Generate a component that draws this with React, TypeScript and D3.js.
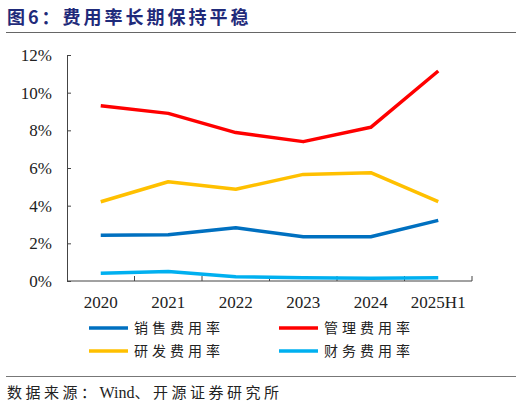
import * as d3 from "d3";
import { useEffect, useRef } from "react";

const categories = ["2020", "2021", "2022", "2023", "2024", "2025H1"];
const salesRate = [2.43, 2.46, 2.83, 2.35, 2.35, 3.22];
const adminRate = [9.31, 8.9, 7.88, 7.4, 8.16, 11.15];
const rdRate = [4.21, 5.27, 4.87, 5.66, 5.75, 4.21];
const financeRate = [0.41, 0.5, 0.23, 0.17, 0.15, 0.17];
const yTicks = [0, 2, 4, 6, 8, 10, 12];

const seriesNames = ["销售费用率", "管理费用率", "研发费用率", "财务费用率"];
const seriesColors = ["#0070C0", "#FF0000", "#FFC000", "#00B0F0"];

const serif = "'Liberation Serif', 'Times New Roman', serif";
const cjk = "'Noto Sans CJK SC', sans-serif";

export default function App() {
  const ref = useRef<SVGSVGElement | null>(null);

  useEffect(() => {
    if (!ref.current) return;
    const svg = d3.select(ref.current);
    svg.selectAll("*").remove();

    const W = 522;
    const H = 405;
    svg.attr("width", W).attr("height", H);

    const x = d3.scaleBand().domain(categories).range([67, 472]).padding(0);
    const y = d3.scaleLinear().domain([0, 12]).range([281, 55]);

    // title
    svg
      .append("text")
      .attr("x", 7)
      .attr("y", 24)
      .attr("fill", "#1F2A7A")
      .style("font-family", cjk)
      .style("font-weight", "bold")
      .style("font-size", "18px")
      .style("letter-spacing", "3px")
      .text("图6：费用率长期保持平稳");

    svg
      .append("line")
      .attr("x1", 6)
      .attr("x2", 516)
      .attr("y1", 32.5)
      .attr("y2", 32.5)
      .attr("stroke", "#666")
      .attr("stroke-width", 1.2);

    // y axis
    const yAxis = svg
      .append("g")
      .attr("transform", "translate(67,0)")
      .call(
        d3
          .axisLeft(y)
          .tickValues(yTicks)
          .tickSizeInner(-4)
          .tickSizeOuter(0)
          .tickPadding(15)
          .tickFormat((d) => `${d}%`)
      );
    yAxis.select(".domain").attr("stroke", "#444");
    yAxis.selectAll("line").attr("stroke", "#444");
    yAxis
      .selectAll("text")
      .attr("fill", "#222")
      .style("font-family", serif)
      .style("font-size", "17px");

    // x axis, ticks sit on the category boundaries
    const xAxis = svg.append("g");
    xAxis
      .append("line")
      .attr("x1", 67)
      .attr("x2", 472)
      .attr("y1", y(0))
      .attr("y2", y(0))
      .attr("stroke", "#444");
    xAxis
      .selectAll("line.tick")
      .data(categories)
      .enter()
      .append("line")
      .attr("class", "tick")
      .attr("x1", (d) => x(d)! + x.bandwidth())
      .attr("x2", (d) => x(d)! + x.bandwidth())
      .attr("y1", y(0))
      .attr("y2", y(0) - 5)
      .attr("stroke", "#444");
    xAxis
      .selectAll("text")
      .data(categories)
      .enter()
      .append("text")
      .attr("x", (d) => x(d)! + x.bandwidth() / 2)
      .attr("y", 308)
      .attr("text-anchor", "middle")
      .attr("fill", "#222")
      .style("font-family", serif)
      .style("font-size", "17px")
      .text((d) => d);

    // lines
    const allSeries = [salesRate, adminRate, rdRate, financeRate];
    const line = d3
      .line<number>()
      .x((_, i) => x(categories[i])! + x.bandwidth() / 2)
      .y((d) => y(d));

    svg
      .selectAll("path.series")
      .data(allSeries)
      .enter()
      .append("path")
      .attr("class", "series")
      .attr("d", (d) => line(d))
      .attr("fill", "none")
      .attr("stroke", (_, i) => seriesColors[i])
      .attr("stroke-width", 3.5)
      .attr("stroke-linejoin", "round");

    // legend
    const legend = svg
      .selectAll("g.legend")
      .data(seriesNames)
      .enter()
      .append("g")
      .attr("class", "legend")
      .attr(
        "transform",
        (_, i) => `translate(${i % 2 === 0 ? 89 : 279},${i < 2 ? 328 : 351})`
      );
    legend
      .append("line")
      .attr("x1", 0)
      .attr("x2", 39)
      .attr("stroke", (_, i) => seriesColors[i])
      .attr("stroke-width", 3.5);
    legend
      .append("text")
      .attr("x", 45)
      .attr("y", 5)
      .attr("fill", "#222")
      .style("font-family", cjk)
      .style("font-size", "14px")
      .style("letter-spacing", "4px")
      .text((d) => d);

    // footer
    svg
      .append("line")
      .attr("x1", 6)
      .attr("x2", 516)
      .attr("y1", 376.5)
      .attr("y2", 376.5)
      .attr("stroke", "#777")
      .attr("stroke-width", 1.2);

    const src = svg
      .append("text")
      .attr("x", 7)
      .attr("y", 398)
      .attr("fill", "#222")
      .style("font-size", "15px")
      .style("letter-spacing", "3.5px");
    src.append("tspan").style("font-family", cjk).text("数据来源：");
    src
      .append("tspan")
      .style("font-family", serif)
      .style("font-size", "16px")
      .style("letter-spacing", "0px")
      .text("Wind");
    src.append("tspan").style("font-family", cjk).text("、开源证券研究所");
  }, []);

  return (
    <svg
      ref={ref}
      style={{ position: "absolute", left: 0, top: 0, background: "#fff" }}
    />
  );
}
